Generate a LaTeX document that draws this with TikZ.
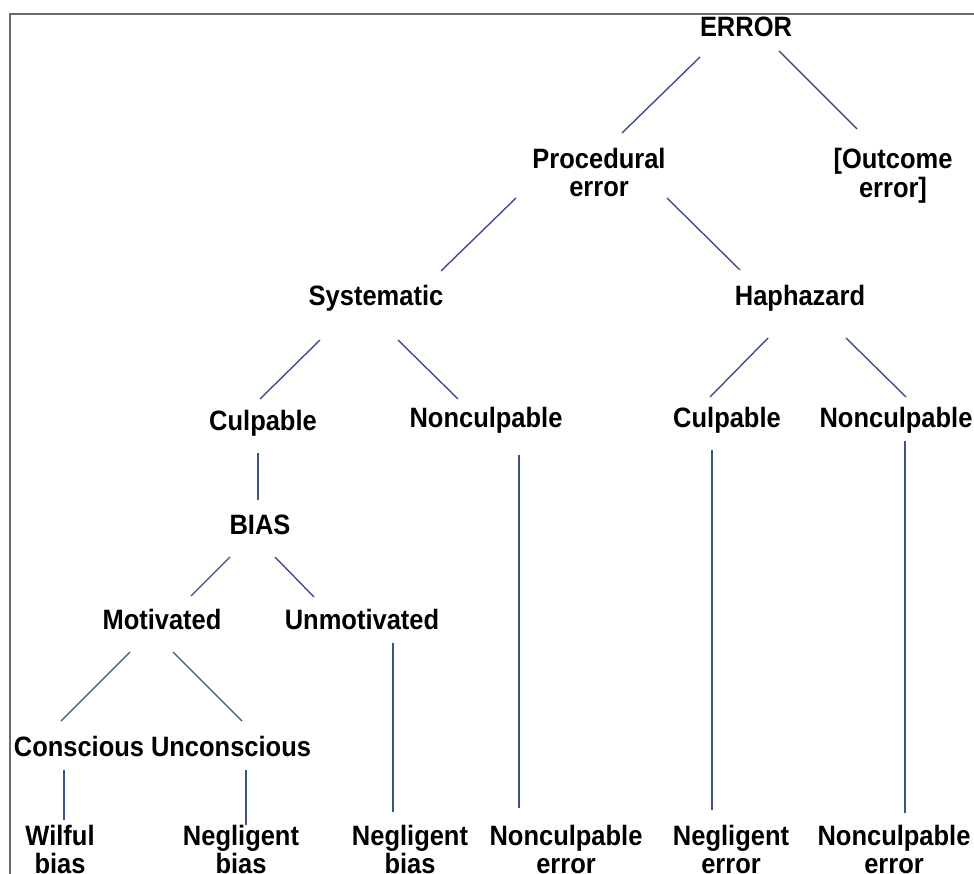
\documentclass[tikz,border=0pt]{standalone}
\usepackage{fontspec}
\newfontfamily\lblfont{Liberation Sans}[FakeStretch=0.91]
\definecolor{linkblue}{HTML}{3D5186}
\definecolor{framegray}{HTML}{6A6A6A}
\tikzset{
  lbl/.style={anchor=base, inner sep=0pt, font=\lblfont\bfseries\fontsize{28}{28}\selectfont, text=black},
  link/.style={draw=linkblue, line width=1.4pt},
  frame/.style={draw=framegray, line width=1.6pt}
}
% two-line label, anchored on the baseline of its first line
\newcommand\twoline[2]{\begin{tabular}[t]{@{}c@{}}#1\\#2\end{tabular}}
% connector between two labels, with offsets from each label's baseline point
\newcommand\linkto[4]{\draw[link] ([shift={#2}]#1.base) -- ([shift={#4}]#3.base);}
\begin{document}
\begin{tikzpicture}[x=1pt,y=-1pt]
\useasboundingbox (0,0) rectangle (974,874);
\draw[frame] (974,14) -- (10,14) -- (10,874);

% labels
\node[lbl] (err)    at (746,37)  {ERROR};
\node[lbl] (proc)   at (599,169) {\twoline{Procedural}{error}};
\node[lbl] (outc)   at (893,169) {\twoline{[Outcome}{error]}};
\node[lbl] (sys)    at (376,306) {Systematic};
\node[lbl] (hap)    at (800,306) {Haphazard};
\node[lbl] (culA)   at (263,430) {Culpable};
\node[lbl] (ncA)    at (486,427) {Nonculpable};
\node[lbl] (culB)   at (727,427) {Culpable};
\node[lbl] (ncB)    at (896,427) {Nonculpable};
\node[lbl] (bias)   at (260,534) {BIAS};
\node[lbl] (mot)    at (162,629) {Motivated};
\node[lbl] (unmot)  at (362,629) {Unmotivated};
\node[lbl] (con)    at (79,756)  {Conscious};
\node[lbl] (uncon)  at (231,756) {Unconscious};
\node[lbl] (wil)    at (60,845)  {\twoline{Wilful}{bias}};
\node[lbl] (negA)   at (241,845) {\twoline{Negligent}{bias}};
\node[lbl] (negB)   at (410,845) {\twoline{Negligent}{bias}};
\node[lbl] (ncerrA) at (566,845) {\twoline{Nonculpable}{error}};
\node[lbl] (negerr) at (731,845) {\twoline{Negligent}{error}};
\node[lbl] (ncerrB) at (894,845) {\twoline{Nonculpable}{error}};

% connectors
\linkto{err}{(-46,20)}{proc}{(23,-36)}
\linkto{err}{(33,14)}{outc}{(-36,-40)}
\linkto{proc}{(-83,29)}{sys}{(65,-35)}
\linkto{proc}{(68,29)}{hap}{(-60,-36)}
\linkto{sys}{(-56,34)}{culA}{(-3,-31)}
\linkto{sys}{(22,34)}{ncA}{(-28,-28)}
\linkto{hap}{(-32,32)}{culB}{(-17,-30)}
\linkto{hap}{(46,32)}{ncB}{(10,-30)}
\linkto{culA}{(-5,23)}{bias}{(-2,-34)}
\linkto{bias}{(-30,23)}{mot}{(29,-33)}
\linkto{bias}{(15,23)}{unmot}{(-48,-32)}
\linkto{mot}{(-32,23)}{con}{(-18,-35)}
\linkto{mot}{(11,23)}{uncon}{(11,-35)}
\linkto{unmot}{(31,14)}{negB}{(-17,-33)}
\linkto{ncA}{(33,28)}{ncerrA}{(-47,-37)}
\linkto{culB}{(-15,23)}{negerr}{(-19,-35)}
\linkto{ncB}{(9,14)}{ncerrB}{(11,-32)}
\linkto{con}{(-15,14)}{wil}{(4,-25)}
\linkto{uncon}{(15,14)}{negA}{(5,-20)}
\end{tikzpicture}
\end{document}
